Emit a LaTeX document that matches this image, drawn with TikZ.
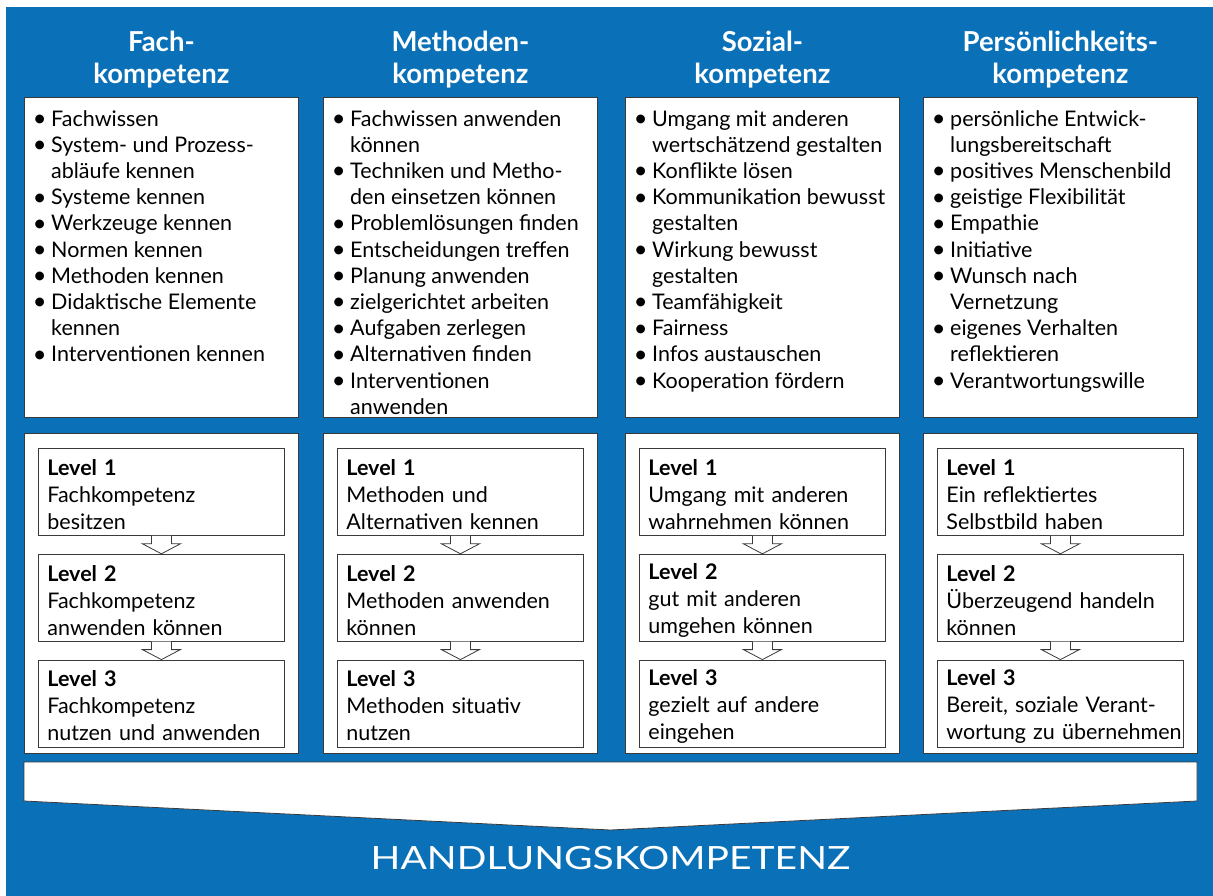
\documentclass[tikz,border=0pt]{standalone}
\usepackage{fontspec}
\setmainfont{Lato}
\usetikzlibrary{positioning}
\definecolor{kblau}{HTML}{0A71B9}
\definecolor{rand}{HTML}{3A3A3A}
\newcommand{\itm}{\makebox[15pt][l]{\makebox[7pt][c]{\raisebox{-0.5pt}{\scalebox{1.1}{•}}}}}
\newcommand{\fort}{\hspace*{15pt}}

\begin{document}
\begin{tikzpicture}[
  x=1pt, y=-1pt,
  kbox/.style={draw=rand, fill=white, line width=0.8pt, minimum width=274pt, minimum height=320pt, inner sep=0pt, anchor=north west},
  kopf/.style={text=white, font=\bfseries\fontsize{27.5}{32}\selectfont, align=center, inner sep=0pt},
  liste/.style={font=\fontsize{21.5}{26.2}\selectfont, align=left, inner sep=0pt, anchor=north west},
  stufe/.style={draw=rand, fill=white, line width=0.8pt, minimum width=246pt, minimum height=87pt, text width=228pt, inner xsep=9pt, inner ysep=0pt, align=left, font=\fontsize{21.5}{27}\selectfont},
  pfeil/.style={draw=rand, fill=white, line width=0.8pt, to path={
    ([xshift=-10pt]\tikztostart.south) -- ([xshift=-10pt,yshift=-8pt]\tikztostart.south)
    -- ([xshift=-19pt,yshift=-8pt]\tikztostart.south) -- (\tikztotarget.north)
    -- ([xshift=19pt,yshift=-8pt]\tikztostart.south) -- ([xshift=10pt,yshift=-8pt]\tikztostart.south)
    -- ([xshift=10pt]\tikztostart.south)}},
  band/.style={draw=rand, fill=white, line width=0.8pt, line join=miter}
]

  % Hintergrund
  \useasboundingbox (0,0) rectangle (1213,896);
  \fill[kblau] (6,7) rectangle (1213,896);

  % Kästen für die Stichpunkte
  \node[kbox] (fach) at (24,97) {};
  \node[kbox] (methode) at (323,97) {};
  \node[kbox] (sozial) at (625,97) {};
  \node[kbox] (person) at (923,97) {};

  % Überschriften
  \node[kopf, above=9pt of fach] (fachkopf) {Fach-\\kompetenz};
  \node[kopf, above=9pt of methode] (methodekopf) {Methoden-\\kompetenz};
  \node[kopf, above=9pt of sozial] (sozialkopf) {Sozial-\\kompetenz};
  \node[kopf, above=9pt of person] (personkopf) {Persönlichkeits-\\kompetenz};

  % Stichpunkte
  \node[liste] (fachliste) at ([xshift=12pt,yshift=-13pt]fach.north west) {%
    \itm Fachwissen\\
    \itm System- und Prozess-\\ \fort abläufe kennen\\
    \itm Systeme kennen\\
    \itm Werkzeuge kennen\\
    \itm Normen kennen\\
    \itm Methoden kennen\\
    \itm Didaktische Elemente\\ \fort kennen\\
    \itm Interventionen kennen};
  \node[liste] (methodeliste) at ([xshift=12pt,yshift=-13pt]methode.north west) {%
    \itm Fachwissen anwenden\\ \fort können\\
    \itm Techniken und Metho-\\ \fort den einsetzen können\\
    \itm Problemlösungen finden\\
    \itm Entscheidungen treffen\\
    \itm Planung anwenden\\
    \itm zielgerichtet arbeiten\\
    \itm Aufgaben zerlegen\\
    \itm Alternativen finden\\
    \itm Interventionen\\ \fort anwenden};
  \node[liste] (sozialliste) at ([xshift=12pt,yshift=-13pt]sozial.north west) {%
    \itm Umgang mit anderen\\ \fort wertschätzend gestalten\\
    \itm Konflikte lösen\\
    \itm Kommunikation bewusst\\ \fort gestalten\\
    \itm Wirkung bewusst\\ \fort gestalten\\
    \itm Teamfähigkeit\\
    \itm Fairness\\
    \itm Infos austauschen\\
    \itm Kooperation fördern};
  \node[liste] (personliste) at ([xshift=12pt,yshift=-13pt]person.north west) {%
    \itm persönliche Entwick-\\ \fort lungsbereitschaft\\
    \itm positives Menschenbild\\
    \itm geistige Flexibilität\\
    \itm Empathie\\
    \itm Initiative\\
    \itm Wunsch nach\\ \fort Vernetzung\\
    \itm eigenes Verhalten\\ \fort reflektieren\\
    \itm Verantwortungswille};

  % Kästen für die Stufen
  \node[kbox] (fachstufen) at (24,433) {};
  \node[kbox] (methodestufen) at (323,433) {};
  \node[kbox] (sozialstufen) at (625,433) {};
  \node[kbox] (personstufen) at (923,433) {};

  % Stufen Fachkompetenz
  \node[stufe, anchor=north west] (f1) at ([xshift=14pt,yshift=-15pt]fachstufen.north west) {\rule{0pt}{21pt}\textbf{Level 1}\\Fachkompetenz\\besitzen};
  \node[stufe, below=18pt of f1] (f2) {\rule{0pt}{21pt}\textbf{Level 2}\\Fachkompetenz\\anwenden können};
  \node[stufe, below=18pt of f2] (f3) {\rule{0pt}{21pt}\textbf{Level 3}\\Fachkompetenz\\nutzen und anwenden};

  % Stufen Methodenkompetenz
  \node[stufe, anchor=north west] (m1) at ([xshift=14pt,yshift=-15pt]methodestufen.north west) {\rule{0pt}{21pt}\textbf{Level 1}\\Methoden und\\Alternativen kennen};
  \node[stufe, below=18pt of m1] (m2) {\rule{0pt}{21pt}\textbf{Level 2}\\Methoden anwenden\\können};
  \node[stufe, below=18pt of m2] (m3) {\rule{0pt}{21pt}\textbf{Level 3}\\Methoden situativ\\nutzen};

  % Stufen Sozialkompetenz
  \node[stufe, anchor=north west] (s1) at ([xshift=14pt,yshift=-15pt]sozialstufen.north west) {\rule{0pt}{21pt}\textbf{Level 1}\\Umgang mit anderen\\wahrnehmen können};
  \node[stufe, below=18pt of s1] (s2) {\rule{0pt}{21pt}\textbf{Level 2}\\gut mit anderen\\umgehen können};
  \node[stufe, below=18pt of s2] (s3) {\rule{0pt}{21pt}\textbf{Level 3}\\gezielt auf andere\\eingehen};

  % Stufen Persönlichkeitskompetenz
  \node[stufe, anchor=north west] (p1) at ([xshift=14pt,yshift=-15pt]personstufen.north west) {\rule{0pt}{21pt}\textbf{Level 1}\\Ein reflektiertes\\Selbstbild haben};
  \node[stufe, below=18pt of p1] (p2) {\rule{0pt}{21pt}\textbf{Level 2}\\Überzeugend handeln\\können};
  \node[stufe, below=18pt of p2] (p3) {\rule{0pt}{21pt}\textbf{Level 3}\\Bereit, soziale Verant-\\wortung~zu~übernehmen};

  % Pfeile zwischen den Stufen
  \draw[pfeil] (f1) to (f2);
  \draw[pfeil] (f2) to (f3);
  \draw[pfeil] (m1) to (m2);
  \draw[pfeil] (m2) to (m3);
  \draw[pfeil] (s1) to (s2);
  \draw[pfeil] (s2) to (s3);
  \draw[pfeil] (p1) to (p2);
  \draw[pfeil] (p2) to (p3);

  % Sammelpfeil und Handlungskompetenz
  \draw[band] (24,762) -- (1197,762) -- (1197,801) -- (610.5,830) -- (24,801) -- cycle;
  \node[text=white, font=\fontsize{32}{40}\selectfont, inner sep=0pt] (handlung) at (610.5,858.5) {\scalebox{1.22}[1]{HANDLUNGSKOMPETENZ}};

\end{tikzpicture}
\end{document}
